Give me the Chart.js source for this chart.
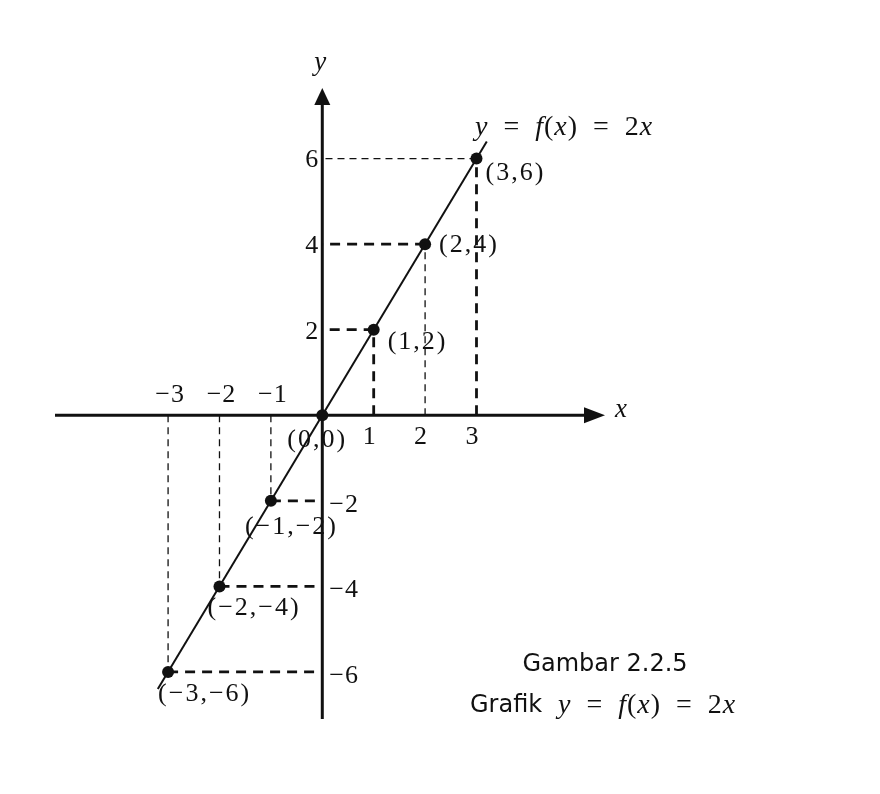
<!DOCTYPE html>
<html>
<head>
<meta charset="utf-8">
<script src="https://cdn.jsdelivr.net/npm/chart.js@4"></script>
<style>
  html, body { margin: 0; padding: 0; background: #fff; }
  #graph { display: block; }
</style>
</head>
<body>
<canvas id="graph" width="880" height="794"></canvas>
<script>
// points of y = 2x that are marked on the figure
const pointX = [-3, -2, -1, 0, 1, 2, 3];
const pointY = [-6, -4, -2, 0, 2, 4, 6];
const pointLabels = ['(−3,−6)', '(−2,−4)', '(−1,−2)', '(0,0)', '(1,2)', '(2,4)', '(3,6)'];

// the drawn line segment
const lineX = [-3.2, 3.2];
const lineY = [-6.4, 6.4];

// tick labels along the axes
const xTicks = [-3, -2, -1, 1, 2, 3];
const yTicks = [-6, -4, -2, 2, 4, 6];

const SERIF = '"Liberation Serif", "Times New Roman", serif';
const SANS = '"DejaVu Sans", Verdana, sans-serif';
const INK = '#111';

// which guides are drawn heavy (by point index), everything else thin
const heavyH = [true, true, true, false, true, true, false];
const heavyV = [false, false, false, false, true, false, true];
// label offsets from the point, in pixels (left aligned)
const labelOffset = [[-10, 22], [-12, 22], [-26, 26], [-35, 25], [14, 12], [14, 1], [9, 15]];

function minus(n) {
  return n < 0 ? '−' + Math.abs(n) : String(n);
}

function guide(a, b, heavy) {
  return {
    data: [a, b],
    showLine: true,
    borderColor: INK,
    borderWidth: heavy ? 2.8 : 1.3,
    borderDash: heavy ? [10, 7] : [7, 5],
    pointRadius: 0,
    tension: 0,
  };
}

const guides = [];
pointX.forEach((x, i) => {
  if (x === 0) return;
  const y = pointY[i];
  guides.push(guide({ x, y }, { x: 0, y }, heavyH[i]));
  guides.push(guide({ x, y: 0 }, { x, y }, heavyV[i]));
});

function drawMath(ctx, parts, x, y, size) {
  ctx.textAlign = 'left';
  ctx.textBaseline = 'middle';
  ctx.letterSpacing = '1px';
  for (const [text, italic] of parts) {
    ctx.font = `${italic ? 'italic ' : ''}${size}px ${SERIF}`;
    ctx.fillText(text, x, y);
    x += ctx.measureText(text).width;
  }
  ctx.letterSpacing = '0px';
}

const EQ = '\u2002=\u2002';
const formula = [['y', true], [EQ, false], ['f', true], ['(', false], ['x', true], [')', false], [EQ + '2', false], ['x', true]];

const axesPlugin = {
  id: 'axes',
  beforeDatasetsDraw(chart) {
    const { ctx, chartArea, scales } = chart;
    const x0 = scales.x.getPixelForValue(0);
    const y0 = scales.y.getPixelForValue(0);
    ctx.save();
    ctx.strokeStyle = INK;
    ctx.fillStyle = INK;
    ctx.lineWidth = 3;
    ctx.beginPath();
    ctx.moveTo(chartArea.left, y0);
    ctx.lineTo(chartArea.right - 18, y0);
    ctx.moveTo(x0, chartArea.bottom);
    ctx.lineTo(x0, chartArea.top + 16);
    ctx.stroke();
    // arrow heads
    ctx.beginPath();
    ctx.moveTo(chartArea.right, y0);
    ctx.lineTo(chartArea.right - 21, y0 - 8);
    ctx.lineTo(chartArea.right - 21, y0 + 8);
    ctx.closePath();
    ctx.fill();
    ctx.beginPath();
    ctx.moveTo(x0, chartArea.top);
    ctx.lineTo(x0 - 8, chartArea.top + 17);
    ctx.lineTo(x0 + 8, chartArea.top + 17);
    ctx.closePath();
    ctx.fill();
    ctx.restore();
  },
  afterDraw(chart) {
    const { ctx, chartArea, scales } = chart;
    const x0 = scales.x.getPixelForValue(0);
    const y0 = scales.y.getPixelForValue(0);
    ctx.save();
    ctx.fillStyle = INK;
    ctx.textBaseline = 'middle';
    ctx.font = `26px ${SERIF}`;
    ctx.letterSpacing = '1px';

    // x tick labels: negatives above the axis, positives below
    ctx.textAlign = 'center';
    xTicks.forEach((v) => {
      const px = scales.x.getPixelForValue(v);
      ctx.fillText(minus(v), px + (v < 0 ? 2 : -4), v < 0 ? y0 - 20 : y0 + 22);
    });
    // y tick labels: positives left of the axis, negatives right
    yTicks.forEach((v) => {
      const py = scales.y.getPixelForValue(v);
      ctx.textAlign = v < 0 ? 'left' : 'right';
      ctx.fillText(minus(v), v < 0 ? x0 + 7 : x0 - 3, v < 0 ? py + 4 : py + 2);
    });

    // point labels
    ctx.letterSpacing = '2px';
    ctx.textAlign = 'left';
    pointLabels.forEach((label, i) => {
      const px = scales.x.getPixelForValue(pointX[i]);
      const py = scales.y.getPixelForValue(pointY[i]);
      ctx.fillText(label, px + labelOffset[i][0], py + labelOffset[i][1]);
    });
    ctx.letterSpacing = '0px';

    // axis names
    ctx.font = `italic 27px ${SERIF}`;
    ctx.fillText('x', chartArea.right + 10, y0 - 5);
    ctx.textAlign = 'center';
    ctx.fillText('y', x0 - 2, chartArea.top - 25);

    // formula next to the line
    drawMath(ctx, formula, 475, 128, 28);

    // caption
    ctx.font = `24px ${SANS}`;
    ctx.textAlign = 'center';
    ctx.fillText('Gambar 2.2.5', 605, 665);
    ctx.textAlign = 'left';
    ctx.fillText('Grafik', 470, 706);
    drawMath(ctx, formula, 558, 706, 28);
    ctx.restore();
  },
};

new Chart(document.getElementById('graph'), {
  type: 'scatter',
  data: {
    datasets: [
      {
        data: lineX.map((x, i) => ({ x, y: lineY[i] })),
        showLine: true,
        borderColor: INK,
        borderWidth: 2,
        pointRadius: 0,
        tension: 0,
      },
      ...guides,
      {
        data: pointX.map((x, i) => ({ x, y: pointY[i] })),
        pointRadius: 6,
        pointBackgroundColor: INK,
        pointBorderColor: INK,
        pointBorderWidth: 0,
      },
    ],
  },
  options: {
    responsive: false,
    animation: false,
    layout: { padding: { left: 55, right: 275, top: 88, bottom: 75 } },
    plugins: { legend: { display: false }, tooltip: { enabled: false } },
    scales: {
      x: { type: 'linear', min: -5.2, max: 5.5, display: false },
      y: { type: 'linear', min: -7.1, max: 7.65, display: false },
    },
  },
  plugins: [axesPlugin],
});
</script>
</body>
</html>
